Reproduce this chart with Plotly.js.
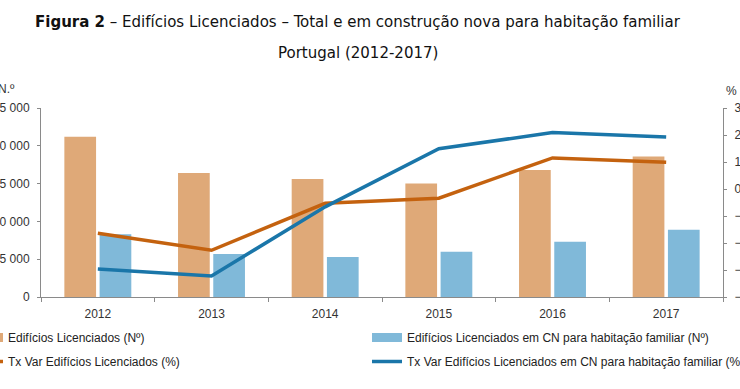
<!DOCTYPE html>
<html>
<head>
<meta charset="utf-8">
<script src="https://cdn.plot.ly/plotly-3.0.1.min.js"></script>
<style>html,body{margin:0;padding:0;background:#fff}#chart{width:740px;height:389px}</style>
</head>
<body>
<div id="chart"></div>
<script>
var years = ["2012", "2013", "2014", "2015", "2016", "2017"];
var totalLicenciados = [21200, 16400, 15600, 15000, 16800, 18600];
var cnHabitacao = [8300, 5700, 5300, 6000, 7300, 8900];
var txVarTotal = [-16.4, -22.7, -5.3, -3.4, 11.5, 9.9];
var txVarCN = [-29.6, -32.2, -6.6, 14.9, 20.9, 19.3];
var leftTicks = [0, 5000, 10000, 15000, 20000, 25000];
var rightTicks = [-40, -30, -20, -10, 0, 10, 20, 30];

var cOrangeBar = "#DFA978", cBlueBar = "#80B9D9", cOrangeLine = "#C4620F", cBlueLine = "#1A76A9";
var nameA = "Edifícios Licenciados (Nº)";
var nameB = "Edifícios Licenciados em CN para habitação familiar (Nº)";
var nameC = "Tx Var Edifícios Licenciados (%)";
var nameD = "Tx Var Edifícios Licenciados em CN para habitação familiar (%)";

var traces = [
  {type: "bar", x: years, y: totalLicenciados, name: nameA, marker: {color: cOrangeBar}, showlegend: false, yaxis: "y"},
  {type: "bar", x: years, y: cnHabitacao, name: nameB, marker: {color: cBlueBar}, showlegend: false, yaxis: "y"},
  {type: "scatter", mode: "lines", x: years, y: txVarTotal, name: nameC, line: {color: cOrangeLine, width: 3.5}, yaxis: "y2", legend: "legend", legendgroup: "c", legendrank: 2, showlegend: true},
  {type: "scatter", mode: "lines", x: years, y: txVarCN, name: nameD, line: {color: cBlueLine, width: 3.5}, yaxis: "y2", legend: "legend2", legendgroup: "d", legendrank: 2, showlegend: true},
  // legend swatches for the bar series
  {type: "scatter", mode: "lines", x: [null], y: [null], name: nameA, line: {color: cOrangeBar, width: 9}, yaxis: "y2", legend: "legend", legendgroup: "a", legendrank: 1, hoverinfo: "skip"},
  {type: "scatter", mode: "lines", x: [null], y: [null], name: nameB, line: {color: cBlueBar, width: 9}, yaxis: "y2", legend: "legend2", legendgroup: "b", legendrank: 1, hoverinfo: "skip"}
];

var FAM = "'Liberation Sans', Arial, sans-serif";
var axFont = {family: FAM, size: 12, color: "#333"};
var L = 41, R = 17, T = 108, B = 92, W = 740 - L - R, H = 389 - T - B;
function px(x) { return (x - L) / W; }
function py(y) { return (389 - B - y) / H; }
var legFont = {family: FAM, size: 12, color: "#222"};

var layout = {
  width: 740, height: 389,
  margin: {l: L, r: R, t: T, b: B, pad: 0, autoexpand: false},
  paper_bgcolor: "#fff", plot_bgcolor: "#fff",
  separators: ", ",
  barmode: "group", bargap: 0.38, bargroupgap: 0.1,
  showlegend: true,
  font: axFont,
  xaxis: {type: "category", showline: true, linecolor: "#8a8a8a", linewidth: 1, ticks: "outside", tickson: "boundaries", ticklen: 4, tickcolor: "#8a8a8a", tickfont: axFont, ticklabelstandoff: 6, showgrid: false, zeroline: false, automargin: false},
  yaxis: {range: [0, 25000], tickvals: leftTicks, tickformat: ",d", showline: true, linecolor: "#8a8a8a", ticks: "outside", ticklen: 3, tickcolor: "#8a8a8a", tickfont: axFont, ticklabelstandoff: 5, showgrid: false, zeroline: false, automargin: false},
  yaxis2: {range: [-40, 30], tickvals: rightTicks, overlaying: "y", side: "right", showline: true, linecolor: "#8a8a8a", ticks: "outside", ticklen: 3, tickcolor: "#8a8a8a", tickfont: axFont, ticklabelstandoff: 5, showgrid: false, zeroline: false, automargin: false},
  legend: {orientation: "v", x: px(-32), xanchor: "left", y: py(323), yanchor: "top", traceorder: "grouped", tracegroupgap: 5, itemwidth: 30, font: legFont, bgcolor: "rgba(0,0,0,0)"},
  legend2: {orientation: "v", x: px(367), xanchor: "left", y: py(323), yanchor: "top", traceorder: "grouped", tracegroupgap: 5, itemwidth: 30, font: legFont, bgcolor: "rgba(0,0,0,0)"},
  annotations: [
    {xref: "paper", yref: "paper", x: px(358), y: py(21), xanchor: "center", yanchor: "middle", showarrow: false,
     text: "<b>Figura 2</b> – Edifícios Licenciados – Total e em construção nova para habitação familiar",
     font: {family: "'DejaVu Sans Condensed', 'DejaVu Sans', sans-serif", size: 16.7, color: "#111"}},
    {xref: "paper", yref: "paper", x: px(358), y: py(52), xanchor: "center", yanchor: "middle", showarrow: false,
     text: "Portugal (2012-2017)",
     font: {family: "'DejaVu Sans Condensed', 'DejaVu Sans', sans-serif", size: 16.7, color: "#111"}},
    {xref: "paper", yref: "paper", x: px(17), y: py(89), xanchor: "right", yanchor: "middle", showarrow: false,
     text: "N.º", font: axFont},
    {xref: "paper", yref: "paper", x: px(724), y: py(91), xanchor: "left", yanchor: "middle", showarrow: false,
     text: "%", font: axFont}
  ]
};

Plotly.newPlot("chart", traces, layout, {displayModeBar: false, staticPlot: true});
</script>
</body>
</html>
